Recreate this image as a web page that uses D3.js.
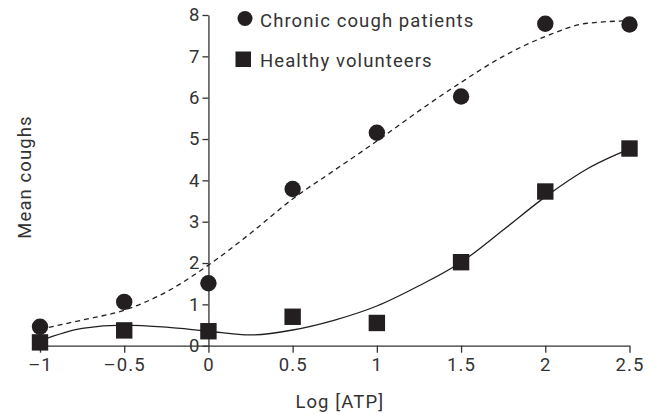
<!DOCTYPE html>
<html>
<head>
<meta charset="utf-8">
<script src="https://cdn.jsdelivr.net/npm/d3@7"></script>
<style>
  body { margin:0; background:#fff; }
  svg text { font-family: Roboto, "DejaVu Sans", sans-serif; fill:#333; font-size:18.5px; letter-spacing:1.1px; }
  .axis path, .axis line { stroke:#333; stroke-width:1.3; }
  .axis text { font-size:18.5px; }
</style>
</head>
<body>
<div id="chart"></div>
<script>
// mean coughs per log[ATP] dose
const logAtp       = [-1, -0.5, 0, 0.5, 1, 1.5, 2, 2.5];
const chronicMeans = [0.46, 1.06, 1.51, 3.79, 5.15, 6.03, 7.79, 7.77];
const healthyMeans = [0.08, 0.37, 0.35, 0.70, 0.55, 2.02, 3.73, 4.77];

// fitted curves
const fitX       = [-1, -0.75, -0.5, -0.25, 0, 0.25, 0.5, 0.75, 1, 1.25, 1.5, 1.75, 2, 2.25, 2.5];
const chronicFit = [0.40, 0.62, 0.86, 1.30, 1.95, 2.72, 3.55, 4.25, 4.95, 5.68, 6.37, 7.00, 7.48, 7.80, 7.86];
const healthyFit = [0.12, 0.42, 0.50, 0.45, 0.35, 0.26, 0.38, 0.62, 0.96, 1.45, 2.02, 2.80, 3.60, 4.28, 4.76];

const xTicks = [-1, -0.5, 0, 0.5, 1, 1.5, 2, 2.5];
const yTicks = [0, 1, 2, 3, 4, 5, 6, 7, 8];
const seriesNames = ["Chronic cough patients", "Healthy volunteers"];

const totalW = 657, totalH = 415;
const svg = d3.select("#chart").append("svg").attr("width", totalW).attr("height", totalH);

const x = d3.scaleLinear().domain([-1, 2.5]).range([40, 629.5]);
const y = d3.scaleLinear().domain([0, 8]).range([345.7, 15]);
const ink = "#231f20";

// axes
svg.append("g").attr("class","axis").attr("transform",`translate(0,${y(0)})`)
    .call(d3.axisBottom(x).tickValues(xTicks).tickSize(7).tickSizeOuter(0).tickPadding(5)
        .tickFormat(d => d < 0 ? "\u2013" + Math.abs(d) : String(d)));
svg.append("g").attr("class","axis").attr("transform",`translate(${x(0)},0)`)
    .call(d3.axisLeft(y).tickValues(yTicks).tickSize(6).tickSizeOuter(0).tickPadding(2));

svg.append("text").attr("x", x(0.78)).attr("y", 408).attr("text-anchor","middle").text("Log [ATP]");
svg.append("text").attr("transform","rotate(-90)").attr("x", -177).attr("y", 31)
    .attr("text-anchor","middle").text("Mean coughs");

// fit lines
const line = ys => d3.line().x((d,i)=>x(fitX[i])).y(d=>y(d)).curve(d3.curveMonotoneX)(ys);
svg.append("path").attr("d", line(chronicFit)).attr("fill","none")
    .attr("stroke", ink).attr("stroke-width",1.3).attr("stroke-dasharray","5,4");
svg.append("path").attr("d", line(healthyFit)).attr("fill","none")
    .attr("stroke", ink).attr("stroke-width",1.3);

// markers
svg.selectAll(".chronic").data(chronicMeans).enter().append("circle")
    .attr("cx",(d,i)=>x(logAtp[i])).attr("cy",d=>y(d)).attr("r",8.2).attr("fill",ink);
svg.selectAll(".healthy").data(healthyMeans).enter().append("rect")
    .attr("x",(d,i)=>x(logAtp[i])-8.2).attr("y",d=>y(d)-8.2).attr("width",16.4).attr("height",16.4).attr("fill",ink);

// legend
svg.append("circle").attr("cx",245).attr("cy",18.5).attr("r",7.5).attr("fill",ink);
svg.append("rect").attr("x",235.5).attr("y",51.5).attr("width",15.5).attr("height",15.5).attr("fill",ink);
svg.append("text").attr("x",260).attr("y",26.5).text(seriesNames[0]);
svg.append("text").attr("x",260).attr("y",66.5).text(seriesNames[1]);
</script>
</body>
</html>
